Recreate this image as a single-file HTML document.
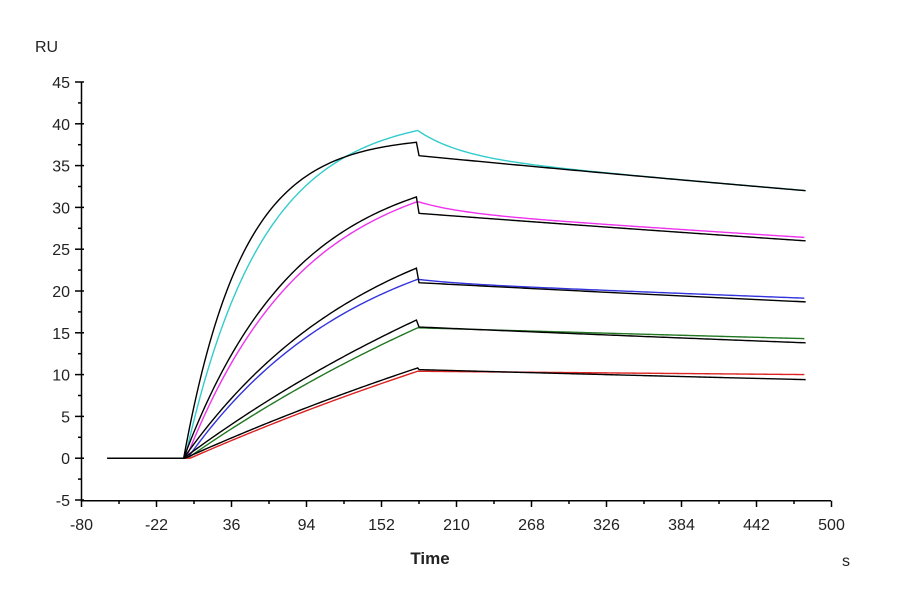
<!DOCTYPE html>
<html><head><meta charset="utf-8"><style>
body{margin:0;background:#fff;width:900px;height:600px;overflow:hidden}
svg{font-family:"Liberation Sans",Arial,sans-serif}
</style></head><body>
<svg id="s" width="900" height="600" viewBox="0 0 900 600">
<g id="ax" stroke="#000" stroke-width="1.5" fill="none"></g>
<g id="lb" font-size="16" fill="#222"></g>
<g id="cv" fill="none" stroke-width="1.4"></g>
<text x="35" y="52" font-size="16" fill="#222">RU</text>
<text x="430" y="564" font-size="17" font-weight="bold" text-anchor="middle" fill="#222">Time</text>
<text x="842" y="566" font-size="16" fill="#222">s</text>
</svg>
<script>
const X=t=>81.5+(t+80)*750/580, Y=v=>458.2-v*8.36;
const ns="http://www.w3.org/2000/svg";
function el(p,tag,a,txt){const e=document.createElementNS(ns,tag);for(const k in a)e.setAttribute(k,a[k]);if(txt!=null)e.textContent=txt;document.getElementById(p).appendChild(e);}
el("ax","path",{d:`M81.5 82V500.7H831`});
for(let v=-5;v<=45;v+=2.5){const y=Y(v),maj=v%5==0;el("ax","path",{d:`M${maj?75:78} ${y}H${maj?84:81.5}`});if(maj)el("lb","text",{x:70,y:y+6,"text-anchor":"end"},v);}
for(let t=-80;t<=500;t+=29){const x=X(t),maj=((t+80)%58)==0;el("ax","path",{d:`M${x} 500.7V${maj?507:504}`});if(maj)el("lb","text",{x:x,y:530,"text-anchor":"middle"},t);}
function assoc(peak,k,t0,t){return peak*(1-Math.exp(-k*(t-t0)))/(1-Math.exp(-k*(180-t0)));}
function curve(col,peak,k,t0,A,kd,B,f){
 let d=`M${X(-60)} ${Y(0)}L${X(t0)} ${Y(0)}`;
 for(let t=t0;t<=180;t+=2)d+=`L${X(t)} ${Y(assoc(peak,k,t0,t))}`;
 for(let t=181;t<=480;t+=2){const dt=t-180;const v=A*Math.exp(-kd*dt)+B*Math.exp(-f*dt);d+=`L${X(t)} ${Y(v)}`;}
 el("cv","path",{d,stroke:col});
}
function fit(peak,k,t0,post,end){
 let d=`M${X(-60)} ${Y(0)}L${X(t0)} ${Y(0)}`;
 for(let t=t0;t<=180;t+=2)d+=`L${X(t)} ${Y(assoc(peak,k,t0,t))}`;
 d+=`L${X(181)} ${Y(post)}`;
 const kd=Math.log(post/end)/300;
 for(let t=182;t<=480;t+=2)d+=`L${X(t)} ${Y(post*Math.exp(-kd*(t-180)))}`;
 el("cv","path",{d,stroke:"#000"});
}
curve("#3cc",39.2,0.0167,0,36.2,0.00041,3,0.03);
curve("#e3e",30.7,0.011,1,29.5,0.00037,1.2,0.03);
curve("#33d",21.4,0.0075,2,21.0,0.00031,0.4,0.03);
curve("#272",15.6,0.0024,2,15.6,0.00029,0,0.03);
curve("#d22",10.4,0.0016,4,10.4,0.00013,0,0.03);
fit(37.8,0.022,-1,36.2,32);
fit(31.3,0.0115,-1,29.3,26);
fit(22.8,0.0068,-1,21,18.7);
fit(16.6,0.00255,-1,15.7,13.8);
fit(10.8,0.00165,0,10.6,9.4);
</script>
</body></html>
